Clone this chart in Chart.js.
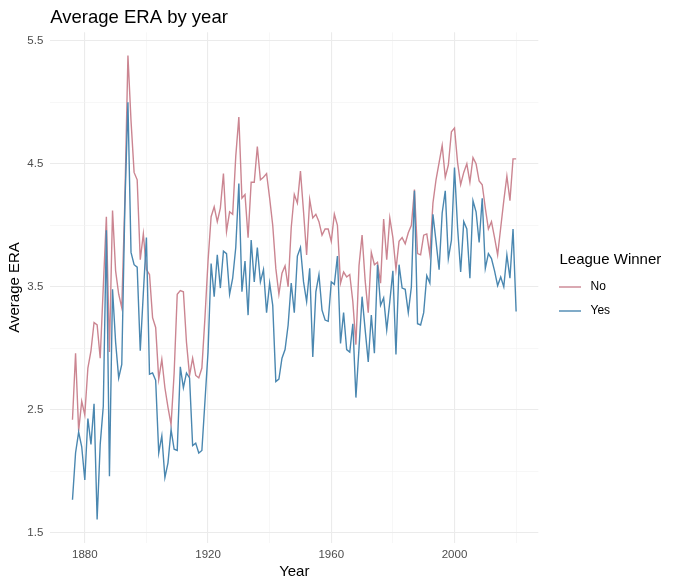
<!DOCTYPE html>
<html>
<head>
<meta charset="utf-8">
<script src="https://cdn.jsdelivr.net/npm/chart.js@4.4.1/dist/chart.umd.min.js"></script>
<style>
html,body{margin:0;padding:0;background:#ffffff;}
#wrap{width:680px;height:586px;position:relative;}
</style>
</head>
<body>
<div id="wrap"><canvas id="c" width="680" height="586"></canvas></div>
<script>
const years = [
1876,1877,1878,1879,1880,1881,1882,1883,1884,1885,1886,1887,1888,1889,1890,1891,1892,1893,1894,1895,
1896,1897,1898,1899,1900,1901,1902,1903,1904,1905,1906,1907,1908,1909,1910,1911,1912,1913,1914,1915,
1916,1917,1918,1919,1920,1921,1922,1923,1924,1925,1926,1927,1928,1929,1930,1931,1932,1933,1934,1935,
1936,1937,1938,1939,1940,1941,1942,1943,1944,1945,1946,1947,1948,1949,1950,1951,1952,1953,1954,1955,
1956,1957,1958,1959,1960,1961,1962,1963,1964,1965,1966,1967,1968,1969,1970,1971,1972,1973,1974,1975,
1976,1977,1978,1979,1980,1981,1982,1983,1984,1985,1986,1987,1988,1989,1990,1991,1992,1993,1994,1995,
1996,1997,1998,1999,2000,2001,2002,2003,2004,2005,2006,2007,2008,2009,2010,2011,2012,2013,2014,2015,
2016,2017,2018,2019,2020
];

// League Winner = No
const noEra = [
2.42,2.96,2.33,2.57,2.46,2.84,2.98,3.21,3.19,2.92,3.50,4.07,2.97,4.12,3.63,3.44,3.33,4.20,5.38,4.85,
4.43,4.37,3.72,3.93,3.64,3.60,3.25,3.17,2.75,2.91,2.68,2.52,2.38,2.80,3.44,3.47,3.46,3.05,2.78,2.92,
2.78,2.76,2.84,3.25,3.71,4.07,4.15,4.03,4.14,4.42,3.95,4.11,4.09,4.56,4.88,4.22,4.25,3.90,4.35,4.35,
4.64,4.37,4.39,4.42,4.22,4.00,3.65,3.44,3.61,3.67,3.50,3.98,4.25,4.18,4.44,4.11,3.76,4.21,4.06,4.09,
4.03,3.92,3.97,3.97,3.87,4.09,4.00,3.53,3.62,3.58,3.60,3.38,3.03,3.67,3.92,3.55,3.29,3.78,3.68,3.70,
3.53,4.05,3.72,4.06,3.90,3.64,3.87,3.90,3.85,3.94,4.00,4.29,3.77,3.76,3.92,3.93,3.76,4.18,4.37,4.51,
4.65,4.39,4.49,4.76,4.79,4.51,4.33,4.43,4.50,4.35,4.55,4.50,4.36,4.33,4.14,3.97,4.03,3.90,3.76,3.98,
4.20,4.40,4.20,4.54,4.54
];

// League Winner = Yes
const yesEra = [
1.77,2.15,2.32,2.20,1.93,2.43,2.22,2.55,1.61,2.22,2.53,3.96,1.96,3.48,3.05,2.76,2.87,4.15,5.00,3.78,
3.68,3.66,2.98,3.45,3.90,2.79,2.80,2.74,2.15,2.29,1.95,2.07,2.34,2.18,2.17,2.85,2.68,2.80,2.76,2.21,
2.23,2.15,2.17,2.57,2.97,3.69,3.42,3.76,3.49,3.79,3.77,3.44,3.57,3.82,4.34,3.46,3.71,3.27,3.88,3.54,
3.82,3.54,3.64,3.29,3.53,3.35,2.73,2.75,2.92,2.99,3.19,3.53,3.29,3.75,3.82,3.54,3.38,3.65,2.93,3.46,
3.60,3.31,3.23,3.22,3.54,3.52,3.75,3.04,3.29,2.99,2.97,3.20,2.60,3.00,3.42,3.15,2.89,3.27,2.96,3.68,
3.35,3.41,3.15,3.38,3.63,2.95,3.68,3.49,3.48,3.29,3.50,4.28,3.20,3.19,3.29,3.59,3.53,4.09,3.87,3.64,
4.10,4.28,3.73,3.88,4.47,3.98,3.62,4.03,3.97,3.57,4.20,4.11,3.86,4.22,3.65,3.77,3.73,3.63,3.51,3.58,
3.50,3.76,3.57,3.97,3.30
];

const seriesNames = ['No', 'Yes'];
const xTicks  = [1880, 1900, 1920, 1940, 1960, 1980, 2000, 2020];
const xLabels = ['1880', '', '1920', '', '1960', '', '2000', ''];
const yTicks  = [1.5, 2, 2.5, 3, 3.5, 4, 4.5, 5, 5.5];
const yLabels = ['1.5', '', '2.5', '', '3.5', '', '4.5', '', '5.5'];

const FONT = "'Liberation Sans', Arial, Helvetica, sans-serif";
const COLORS = ['#CB8591', '#4A87B0'];

function gridColor(ctx, labels, ticks) {
  const v = ctx.tick ? ctx.tick.value : null;
  const i = ticks.indexOf(v);
  return (i >= 0 && labels[i] !== '') ? '#EBEBEB' : '#F1F1F1';
}
function gridWidth(ctx, labels, ticks) {
  const v = ctx.tick ? ctx.tick.value : null;
  const i = ticks.indexOf(v);
  return (i >= 0 && labels[i] !== '') ? 1.1 : 0.6;
}

const overlay = {
  id: 'overlay',
  afterDraw(chart) {
    const c = chart.ctx;
    c.save();
    // title
    c.fillStyle = '#000000';
    c.font = '18.5px ' + FONT;
    c.textAlign = 'left';
    c.textBaseline = 'alphabetic';
    c.fillText('Average ERA by year', chart.chartArea.left, 22.5);
    // legend
    c.font = '15px ' + FONT;
    c.textBaseline = 'middle';
    c.fillText('League Winner', 559.5, 260);
    const keyY = [287, 311];
    c.font = '12px ' + FONT;
    for (let i = 0; i < seriesNames.length; i++) {
      c.strokeStyle = COLORS[i];
      c.lineWidth = 1.4;
      c.beginPath();
      c.moveTo(559, keyY[i]);
      c.lineTo(581, keyY[i]);
      c.stroke();
      c.fillStyle = '#000000';
      c.fillText(seriesNames[i], 590.5, keyY[i]);
    }
    c.restore();
  }
};

const seriesValues = [noEra, yesEra];
const datasets = seriesNames.map((name, s) => ({
  label: name,
  data: years.map((yr, i) => ({ x: yr, y: seriesValues[s][i] })),
  borderColor: COLORS[s],
  backgroundColor: COLORS[s],
  borderWidth: 1.4,
  pointRadius: 0,
  pointHoverRadius: 0,
  tension: 0,
  fill: false,
  order: s === 0 ? 1 : 0
}));

new Chart(document.getElementById('c'), {
  type: 'line',
  data: { datasets },
  options: {
    responsive: false,
    animation: false,
    devicePixelRatio: 1,
    layout: { padding: { left: 0, right: 141.7, top: 32.3, bottom: 0 } },
    plugins: {
      legend: { display: false },
      title: { display: false },
      tooltip: { enabled: false }
    },
    scales: {
      x: {
        type: 'linear',
        min: 1868.8,
        max: 2027.2,
        afterBuildTicks: s => { s.ticks = xTicks.map(v => ({ value: v })); },
        afterFit: s => { s.height = 43.4; },
        border: { display: false },
        grid: {
          drawTicks: false,
          color: ctx => gridColor(ctx, xLabels, xTicks),
          lineWidth: ctx => gridWidth(ctx, xLabels, xTicks)
        },
        ticks: {
          autoSkip: false,
          maxRotation: 0,
          padding: 5,
          color: '#4D4D4D',
          font: { family: FONT, size: 11.5 },
          callback: v => { const i = xTicks.indexOf(v); return i >= 0 ? xLabels[i] : ''; }
        },
        title: {
          display: true,
          text: 'Year',
          color: '#000000',
          font: { family: FONT, size: 15 },
          padding: { top: 0, bottom: 5 }
        }
      },
      y: {
        type: 'linear',
        min: 1.4215,
        max: 5.5685,
        afterBuildTicks: s => { s.ticks = yTicks.map(v => ({ value: v })); },
        afterFit: s => { s.width = 50.3; },
        border: { display: false },
        grid: {
          drawTicks: false,
          color: ctx => gridColor(ctx, yLabels, yTicks),
          lineWidth: ctx => gridWidth(ctx, yLabels, yTicks)
        },
        ticks: {
          autoSkip: false,
          padding: 7,
          color: '#4D4D4D',
          font: { family: FONT, size: 11.5 },
          callback: v => { const i = yTicks.indexOf(v); return i >= 0 ? yLabels[i] : ''; }
        },
        title: {
          display: true,
          text: 'Average ERA',
          color: '#000000',
          font: { family: FONT, size: 15 },
          padding: { top: 6, bottom: 0 }
        }
      }
    }
  },
  plugins: [overlay]
});
</script>
</body>
</html>
